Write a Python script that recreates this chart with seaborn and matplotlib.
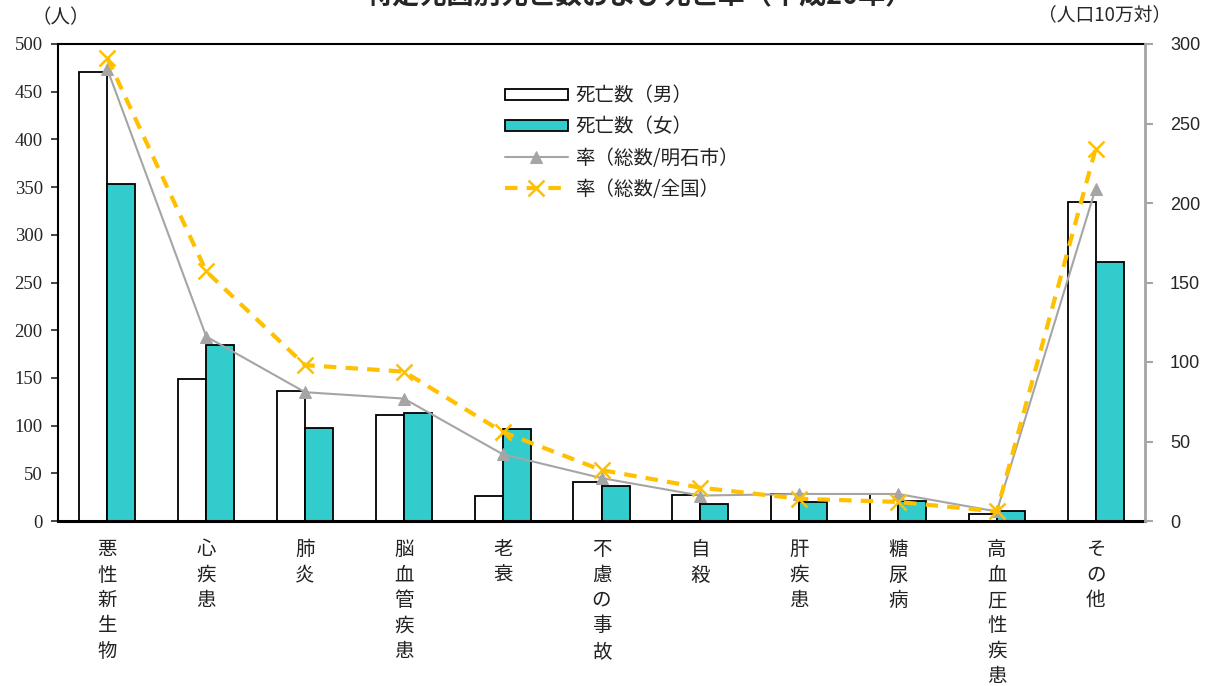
import numpy as np
import pandas as pd
import matplotlib
matplotlib.use("Agg")
import matplotlib.pyplot as plt
from matplotlib.patches import Patch
import seaborn as sns

# data
causes = ["悪性新生物", "心疾患", "肺炎", "脳血管疾患", "老衰", "不慮の事故",
          "自殺", "肝疾患", "糖尿病", "高血圧性疾患", "その他"]
deaths_male = [471, 149, 136, 111, 26, 41, 27, 28, 28, 7, 334]
deaths_female = [353, 185, 98, 113, 96, 37, 18, 20, 21, 10, 271]
rate_akashi = [284, 116, 81, 77, 42, 27, 16, 17, 17, 6, 209]
rate_national = [291, 157, 98, 94, 56, 32, 21, 14, 12, 6, 234]

sns.set_style("white")
plt.rcParams["font.family"] = ["Noto Sans CJK JP", "DejaVu Sans"]

df = pd.DataFrame({
    "cause": causes * 2,
    "deaths": deaths_male + deaths_female,
    "sex": ["死亡数（男）"] * len(causes) + ["死亡数（女）"] * len(causes),
})

fig = plt.figure(figsize=(12.06, 6.86), dpi=100)
ax = fig.add_axes([58 / 1206, 165 / 686, 1087 / 1206, 477 / 686])

sns.barplot(data=df, x="cause", y="deaths", hue="sex", ax=ax,
            palette=["#FFFFFF", "#33CCCC"], saturation=1,
            edgecolor="black", linewidth=1.3,
            width=0.567, gap=0, legend=False)
ax.set_xlim(-0.5, len(causes) - 0.5)
ax.set_ylim(0, 500)
ax.set_yticks(np.arange(0, 501, 50))
ax.set_xlabel("")
ax.set_ylabel("")
ax.set_xticks(np.arange(len(causes)))
ax.set_xticklabels(["\n".join(c) for c in causes], va="top", fontsize=14,
                   linespacing=1.28, color="#222222")
ax.tick_params(axis="x", length=0, pad=13)
ax.tick_params(axis="y", direction="out", length=5, width=1.2, left=True,
               pad=6)
for lab in ax.get_yticklabels():
    lab.set_family(["Liberation Serif", "DejaVu Serif"])
    lab.set_fontsize(13.5)
for s in ["left", "top"]:
    ax.spines[s].set_color("black")
    ax.spines[s].set_linewidth(1.5)
ax.spines["bottom"].set_linewidth(2.2)
ax.spines["bottom"].set_color("black")

ax2 = ax.twinx()
x = np.arange(len(causes))
sns.lineplot(x=x, y=rate_akashi, ax=ax2, color="#A5A5A5", linewidth=1.5,
             marker="^", markersize=8, markeredgecolor="#A5A5A5",
             label="率（総数/明石市）", legend=False)
sns.lineplot(x=x, y=rate_national, ax=ax2, color="#FFC000", linewidth=3,
             dashes=(3, 2.2), marker="x", markersize=11, markeredgewidth=1.8,
             markeredgecolor="#FFC000", label="率（総数/全国）", legend=False)
ax2.set_ylim(0, 300)
ax2.set_yticks(np.arange(0, 301, 50))
ax2.tick_params(axis="y", direction="out", length=6, width=1.5,
                color="#A5A5A5", right=True, pad=12)
for lab in ax2.get_yticklabels():
    lab.set_family(["Liberation Sans", "DejaVu Sans"])
    lab.set_fontsize(13)
for s in ["left", "top", "bottom"]:
    ax2.spines[s].set_visible(False)
ax2.spines["right"].set_color("#A5A5A5")
ax2.spines["right"].set_linewidth(2)

# legend combining both axes
h1 = [Patch(facecolor="#FFFFFF", edgecolor="black", linewidth=1.3),
      Patch(facecolor="#33CCCC", edgecolor="black", linewidth=1.3)]
h2, l2 = ax2.get_legend_handles_labels()
leg = ax2.legend(h1 + h2, ["死亡数（男）", "死亡数（女）"] + l2,
                 loc="upper left", bbox_to_anchor=(0.395, 0.95), frameon=False,
                 fontsize=14, handlelength=3.25, handleheight=0.5,
                 labelspacing=0.52, handletextpad=0.36)
for t in leg.get_texts():
    t.set_color("#222222")

fig.text(0.05, 0.975, "（人）", fontsize=14, ha="center", va="center")
fig.text(0.916, 0.978, "（人口10万対）", fontsize=13.5, ha="center",
         va="center")
fig.text(0.53, 1 - 10 / 686, "特定死因別死亡数および死亡率（平成20年）",
         fontsize=19.5, fontweight="bold", ha="center", va="bottom")

fig.savefig("out.png", dpi=100)
